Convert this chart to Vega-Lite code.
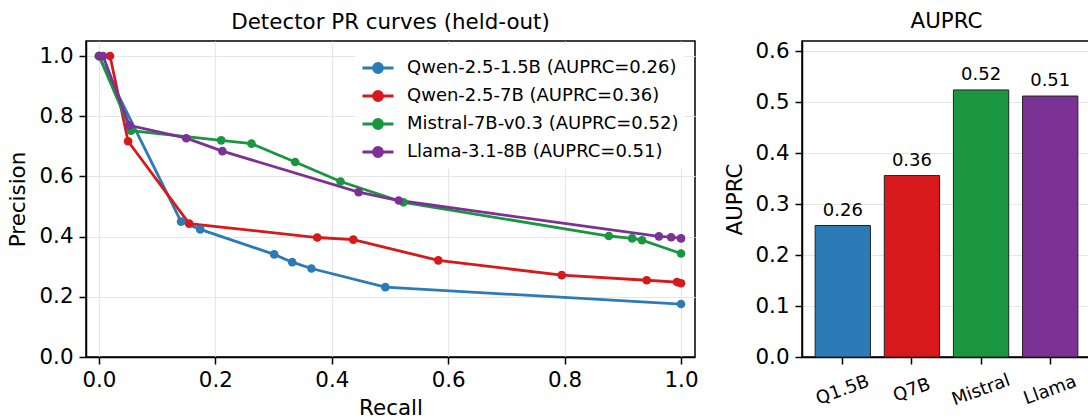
{
  "$schema": "https://vega.github.io/schema/vega-lite/v6.json",
  "autosize": {"type": "none"},
  "padding": {"left": 86, "top": 41, "right": 1002, "bottom": 377},
  "config": {
    "font": "DejaVu Sans",
    "view": {"stroke": "black", "strokeWidth": 1.5},
    "axis": {
      "domainColor": "black", "domainWidth": 1.5,
      "tickColor": "black", "tickWidth": 1.5, "tickSize": 7,
      "labelColor": "black", "labelFontSize": 21.4, "labelPadding": 6, "labelFont": "DejaVu Sans",
      "titleColor": "black", "titleFontSize": 21.4, "titleFontWeight": "normal", "titleFont": "DejaVu Sans",
      "gridColor": "#e6e6e6", "gridWidth": 1.2
    },
    "title": {"fontSize": 21.4, "fontWeight": "normal", "color": "black", "font": "DejaVu Sans"}
  },
  "spacing": 107,
  "bounds": "flush",
  "resolve": {"scale": {"color": "shared"}, "legend": {"color": "independent"}},
  "hconcat": [
    {
      "width": 609,
      "height": 316,
      "title": {"text": "Detector PR curves (held-out)", "offset": -9, "baseline": "alphabetic"},
      "data": {"values": [
        {"model": "Qwen-2.5-1.5B (AUPRC=0.26)", "recall": 0.0, "precision": 1.0},
        {"model": "Qwen-2.5-1.5B (AUPRC=0.26)", "recall": 0.141, "precision": 0.45},
        {"model": "Qwen-2.5-1.5B (AUPRC=0.26)", "recall": 0.174, "precision": 0.424},
        {"model": "Qwen-2.5-1.5B (AUPRC=0.26)", "recall": 0.301, "precision": 0.341},
        {"model": "Qwen-2.5-1.5B (AUPRC=0.26)", "recall": 0.332, "precision": 0.315},
        {"model": "Qwen-2.5-1.5B (AUPRC=0.26)", "recall": 0.365, "precision": 0.294},
        {"model": "Qwen-2.5-1.5B (AUPRC=0.26)", "recall": 0.492, "precision": 0.232},
        {"model": "Qwen-2.5-1.5B (AUPRC=0.26)", "recall": 1.0, "precision": 0.176},
        {"model": "Qwen-2.5-7B (AUPRC=0.36)", "recall": 0.019, "precision": 1.0},
        {"model": "Qwen-2.5-7B (AUPRC=0.36)", "recall": 0.05, "precision": 0.717},
        {"model": "Qwen-2.5-7B (AUPRC=0.36)", "recall": 0.155, "precision": 0.443},
        {"model": "Qwen-2.5-7B (AUPRC=0.36)", "recall": 0.375, "precision": 0.397},
        {"model": "Qwen-2.5-7B (AUPRC=0.36)", "recall": 0.437, "precision": 0.39},
        {"model": "Qwen-2.5-7B (AUPRC=0.36)", "recall": 0.583, "precision": 0.321},
        {"model": "Qwen-2.5-7B (AUPRC=0.36)", "recall": 0.795, "precision": 0.272},
        {"model": "Qwen-2.5-7B (AUPRC=0.36)", "recall": 0.941, "precision": 0.255},
        {"model": "Qwen-2.5-7B (AUPRC=0.36)", "recall": 0.993, "precision": 0.249},
        {"model": "Qwen-2.5-7B (AUPRC=0.36)", "recall": 1.0, "precision": 0.245},
        {"model": "Mistral-7B-v0.3 (AUPRC=0.52)", "recall": 0.0, "precision": 1.0},
        {"model": "Mistral-7B-v0.3 (AUPRC=0.52)", "recall": 0.055, "precision": 0.752},
        {"model": "Mistral-7B-v0.3 (AUPRC=0.52)", "recall": 0.21, "precision": 0.72},
        {"model": "Mistral-7B-v0.3 (AUPRC=0.52)", "recall": 0.262, "precision": 0.709},
        {"model": "Mistral-7B-v0.3 (AUPRC=0.52)", "recall": 0.337, "precision": 0.648},
        {"model": "Mistral-7B-v0.3 (AUPRC=0.52)", "recall": 0.415, "precision": 0.583},
        {"model": "Mistral-7B-v0.3 (AUPRC=0.52)", "recall": 0.523, "precision": 0.514},
        {"model": "Mistral-7B-v0.3 (AUPRC=0.52)", "recall": 0.876, "precision": 0.402},
        {"model": "Mistral-7B-v0.3 (AUPRC=0.52)", "recall": 0.916, "precision": 0.394},
        {"model": "Mistral-7B-v0.3 (AUPRC=0.52)", "recall": 0.933, "precision": 0.388},
        {"model": "Mistral-7B-v0.3 (AUPRC=0.52)", "recall": 1.0, "precision": 0.344},
        {"model": "Llama-3.1-8B (AUPRC=0.51)", "recall": 0.0, "precision": 1.0},
        {"model": "Llama-3.1-8B (AUPRC=0.51)", "recall": 0.007, "precision": 1.0},
        {"model": "Llama-3.1-8B (AUPRC=0.51)", "recall": 0.052, "precision": 0.77},
        {"model": "Llama-3.1-8B (AUPRC=0.51)", "recall": 0.15, "precision": 0.727},
        {"model": "Llama-3.1-8B (AUPRC=0.51)", "recall": 0.212, "precision": 0.684},
        {"model": "Llama-3.1-8B (AUPRC=0.51)", "recall": 0.446, "precision": 0.548},
        {"model": "Llama-3.1-8B (AUPRC=0.51)", "recall": 0.515, "precision": 0.52},
        {"model": "Llama-3.1-8B (AUPRC=0.51)", "recall": 0.962, "precision": 0.401},
        {"model": "Llama-3.1-8B (AUPRC=0.51)", "recall": 0.983, "precision": 0.398},
        {"model": "Llama-3.1-8B (AUPRC=0.51)", "recall": 1.0, "precision": 0.394}
      ]},
      "mark": {"type": "line", "strokeWidth": 2.8, "point": {"filled": true, "size": 75, "opacity": 1}},
      "encoding": {
        "x": {"field": "recall", "type": "quantitative",
          "scale": {"domain": [-0.0223, 1.024], "nice": false, "zero": false},
          "axis": {"values": [0, 0.2, 0.4, 0.6, 0.8, 1.0], "format": ".1f", "title": "Recall", "labelFlush": false,
            "labelPadding": 5, "titleX": 304.5, "titleY": 51, "titleBaseline": "middle", "titleAlign": "center"}},
        "y": {"field": "precision", "type": "quantitative",
          "scale": {"domain": [0, 1.05], "nice": false, "zero": false},
          "axis": {"values": [0, 0.2, 0.4, 0.6, 0.8, 1.0], "format": ".1f", "title": "Precision", "labelFlush": false,
            "titleX": -68, "titleY": 158, "titleBaseline": "middle", "titleAlign": "center", "titleAngle": -90}},
        "color": {"field": "model", "type": "nominal",
          "scale": {"domain": ["Qwen-2.5-1.5B (AUPRC=0.26)", "Qwen-2.5-7B (AUPRC=0.36)", "Mistral-7B-v0.3 (AUPRC=0.52)", "Llama-3.1-8B (AUPRC=0.51)"],
                    "range": ["#2c7bb6", "#d7191c", "#1a9641", "#7b3294"]},
          "legend": {"title": null, "orient": "none", "legendX": 269, "legendY": 4, "padding": 6,
            "fillColor": "white",
            "symbolType": "M-1,0L1,0M-0.29,0A0.29,0.29,0,1,1,0.29,0A0.29,0.29,0,1,1,-0.29,0Z",
            "symbolSize": 961, "symbolStrokeWidth": 2.8, "labelFontSize": 18, "labelColor": "black",
            "labelFont": "DejaVu Sans", "labelOffset": 12, "rowPadding": -1.5, "labelLimit": 400,
            "encode": {"symbols": {"update": {"fill": {"scale": "color", "field": "value"}, "stroke": {"scale": "color", "field": "value"}, "opacity": {"value": 1}}}}}}
      }
    },
    {
      "width": 289,
      "height": 316,
      "title": {"text": "AUPRC", "offset": -9, "baseline": "alphabetic"},
      "data": {"values": [
        {"short": "Q1.5B", "model": "Qwen-2.5-1.5B (AUPRC=0.26)", "auprc": 0.258},
        {"short": "Q7B", "model": "Qwen-2.5-7B (AUPRC=0.36)", "auprc": 0.356},
        {"short": "Mistral", "model": "Mistral-7B-v0.3 (AUPRC=0.52)", "auprc": 0.524},
        {"short": "Llama", "model": "Llama-3.1-8B (AUPRC=0.51)", "auprc": 0.512}
      ]},
      "encoding": {
        "x": {"field": "short", "type": "nominal", "sort": null,
          "scale": {"paddingInner": 0.2, "paddingOuter": 0.19},
          "axis": {"title": null, "labelAngle": -20, "labelFontSize": 18, "labelBaseline": "middle", "labelAlign": "center", "labelPadding": 26}},
        "y": {"field": "auprc", "type": "quantitative",
          "scale": {"domain": [0, 0.62], "nice": false, "zero": false},
          "axis": {"values": [0, 0.1, 0.2, 0.3, 0.4, 0.5, 0.6], "format": ".1f", "title": "AUPRC", "labelFlush": false,
            "titleX": -67, "titleY": 158, "titleBaseline": "middle", "titleAlign": "center", "titleAngle": -90}}
      },
      "layer": [
        {"mark": {"type": "bar", "stroke": "#222222", "strokeWidth": 1},
         "encoding": {"color": {"field": "model", "type": "nominal", "legend": null}}},
        {"mark": {"type": "text", "dy": -10, "baseline": "alphabetic", "fontSize": 18, "color": "black"},
         "encoding": {"text": {"field": "auprc", "type": "quantitative", "format": ".2f"}}}
      ]
    }
  ]
}
